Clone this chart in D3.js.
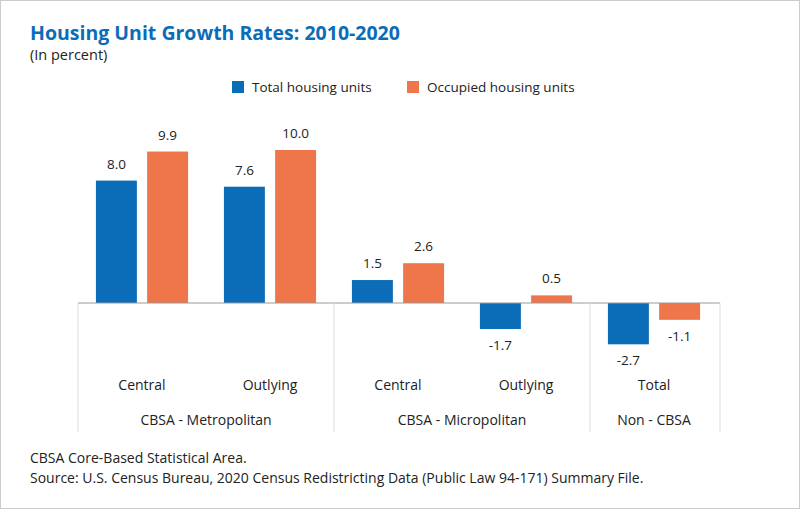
<!DOCTYPE html>
<html><head><meta charset="utf-8">
<script src="https://cdn.jsdelivr.net/npm/d3@7"></script>
<style>body{margin:0;background:#fff}text{font-family:"Open Sans",Lato,sans-serif}</style>
</head><body><svg id="c" width="800" height="509"></svg>
<script>
const categories=["Central","Outlying","Central","Outlying","Total"];
const groups=[{name:"CBSA - Metropolitan",n:2},{name:"CBSA - Micropolitan",n:2},{name:"Non - CBSA",n:1}];
const seriesNames=["Total housing units","Occupied housing units"];
const totalUnits=[8.0,7.6,1.5,-1.7,-2.7];
const occupiedUnits=[9.9,10.0,2.6,0.5,-1.1];
const colors=["#0b6cb8","#ef754a"];
const svg=d3.select("#c");
svg.append("rect").attr("x",0.5).attr("y",0.5).attr("width",799).attr("height",508).attr("fill","none").attr("stroke","#ccc");
svg.append("text").attr("x",30).attr("y",40).attr("fill","#0b6cb8").attr("font-size",19.5).attr("font-weight","bold").text("Housing Unit Growth Rates: 2010-2020");
svg.append("text").attr("x",30).attr("y",60).attr("font-size",14.5).attr("fill","#222").text("(In percent)");
const lx=[232,407];
seriesNames.forEach((s,i)=>{
 svg.append("rect").attr("x",lx[i]).attr("y",81).attr("width",12).attr("height",12).attr("fill",colors[i]);
 svg.append("text").attr("x",lx[i]+20).attr("y",92).attr("font-size",13.5).attr("fill","#222").text(s);
});
const x=d3.scaleBand().domain(d3.range(5)).range([78,718]).padding(0);
const y=d3.scaleLinear().domain([0,10]).range([303,150]);
const sub=d3.scaleBand().domain([0,1]).range([0,x.bandwidth()]).paddingInner(0.2).paddingOuter(0.35);
[totalUnits,occupiedUnits].forEach((vals,si)=>{
 vals.forEach((v,i)=>{
  const bx=x(i)+sub(si);
  svg.append("rect").attr("x",bx).attr("width",sub.bandwidth()).attr("y",y(Math.max(0,v))).attr("height",Math.abs(y(v)-y(0))).attr("fill",colors[si]);
  svg.append("text").attr("x",bx+sub.bandwidth()/2).attr("y",v>=0?y(v)-12:y(v)+21).attr("text-anchor","middle").attr("font-size",13.5).attr("fill","#222").text(v.toFixed(1));
 });
});
svg.append("line").attr("x1",78).attr("x2",720).attr("y1",303).attr("y2",303).attr("stroke","#999");
let start=0;const seps=[x(0)];
groups.forEach(g=>{
 const x0=x(start),x1=x(start+g.n-1)+x.bandwidth();
 svg.append("text").attr("x",(x0+x1)/2).attr("y",425).attr("text-anchor","middle").attr("font-size",14).attr("fill","#222").text(g.name);
 start+=g.n;seps.push(start<5?x(start):720);
});
seps.forEach(s=>svg.append("line").attr("x1",s).attr("x2",s).attr("y1",303).attr("y2",432).attr("stroke","#ddd"));
categories.forEach((c,i)=>svg.append("text").attr("x",x(i)+x.bandwidth()/2).attr("y",390).attr("text-anchor","middle").attr("font-size",14).attr("fill","#222").text(c));
svg.append("text").attr("x",30).attr("y",463).attr("font-size",14).attr("fill","#222").text("CBSA Core-Based Statistical Area.");
svg.append("text").attr("x",30).attr("y",483).attr("font-size",14).attr("fill","#222").text("Source: U.S. Census Bureau, 2020 Census Redistricting Data (Public Law 94-171) Summary File.");
</script></body></html>
